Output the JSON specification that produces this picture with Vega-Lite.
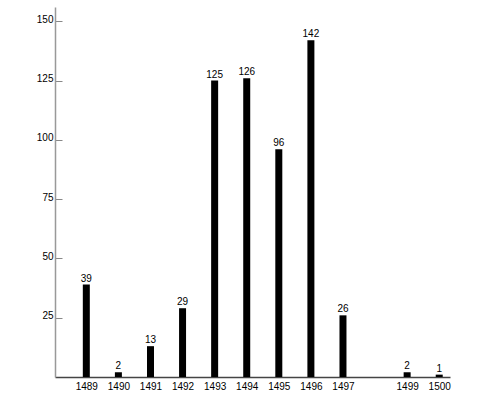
{
  "$schema": "https://vega.github.io/schema/vega-lite/v6.json",
  "autosize": "none",
  "width": 395,
  "height": 370,
  "padding": {"left": 55, "top": 7, "right": 50, "bottom": 32},
  "background": "white",
  "config": {"view": {"stroke": null}, "font": "Liberation Sans"},
  "data": {"values": [
    {"year": 1489, "count": 39},
    {"year": 1490, "count": 2},
    {"year": 1491, "count": 13},
    {"year": 1492, "count": 29},
    {"year": 1493, "count": 125},
    {"year": 1494, "count": 126},
    {"year": 1495, "count": 96},
    {"year": 1496, "count": 142},
    {"year": 1497, "count": 26},
    {"year": 1499, "count": 2},
    {"year": 1500, "count": 1}
  ]},
  "encoding": {
    "x": {"field": "year", "type": "quantitative",
      "scale": {"domain": [1488.18, 1500.18], "nice": false, "zero": false},
      "axis": {"title": null, "values": [1489,1490,1491,1492,1493,1494,1495,1496,1497,1499,1500],
        "format": "d", "grid": false, "ticks": false, "domainColor": "#444", "domainWidth": 1.5,
        "labelColor": "black", "labelFontSize": 10, "labelPadding": 4, "labelFlush": false}},
    "y": {"field": "count", "type": "quantitative",
      "scale": {"domain": [0, 156], "nice": false},
      "axis": {"title": null, "values": [25,50,75,100,125,150], "grid": false,
        "tickSize": -7, "tickColor": "#888", "domainColor": "#999", "domainWidth": 1.5,
        "labelColor": "black", "labelFontSize": 10, "labelPadding": 9, "labelBaseline": "middle", "labelOffset": -2}}
  },
  "layer": [
    {"mark": {"type": "bar", "width": 7, "color": "black"}},
    {"mark": {"type": "text", "baseline": "bottom", "dy": -1, "fontSize": 10, "color": "black"},
     "encoding": {"text": {"field": "count", "type": "quantitative"}}}
  ]
}
